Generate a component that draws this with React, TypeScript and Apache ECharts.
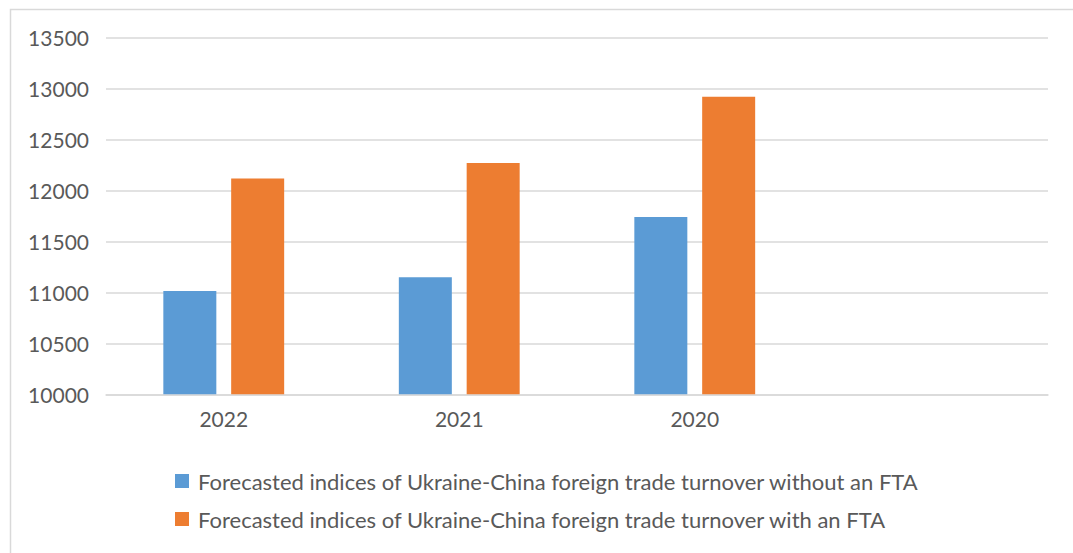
import React, { useEffect, useRef } from "react";
import * as echarts from "echarts";

const categories = ["2022", "2021", "2020", ""];
const withoutFta = [11013, 11147, 11738, null];
const withFta = [12118, 12268, 12918, null];
const seriesNames = [
  "Forecasted indices of Ukraine-China foreign trade turnover without an FTA",
  "Forecasted indices of Ukraine-China foreign trade turnover with an FTA",
];
const yMin = 10000;
const yMax = 13500;
const yStep = 500;

const FONT = "Lato, 'Open Sans', sans-serif";

export default function App() {
  const ref = useRef<HTMLDivElement>(null);
  useEffect(() => {
    document.body.style.margin = "0";
    const chart = echarts.init(ref.current!, undefined, { renderer: "svg" });
    chart.setOption({
      animation: false,
      backgroundColor: "#ffffff",
      textStyle: { fontFamily: FONT },
      graphic: [
        {
          type: "rect",
          left: 8,
          top: 7,
          shape: { width: 1080, height: 560 },
          style: { fill: "none", stroke: "#d9d9d9", lineWidth: 1.5 },
          silent: true,
        },
      ],
      grid: { left: 106, right: 25, top: 37.5, bottom: 158.7, containLabel: false },
      legend: {
        orient: "vertical",
        left: 175,
        top: 470,
        padding: 0,
        itemWidth: 14,
        itemHeight: 14,
        itemGap: 16,
        icon: "rect",
        textStyle: { color: "#595959", fontSize: 22, fontFamily: FONT, padding: [0, 0, 0, 4] },
        data: seriesNames,
      },
      xAxis: {
        type: "category",
        data: categories,
        axisLine: { show: true, lineStyle: { color: "#d9d9d9", width: 1.5 } },
        axisTick: { show: false },
        axisLabel: { color: "#595959", fontSize: 21, margin: 14, fontFamily: FONT },
      },
      yAxis: {
        type: "value",
        min: yMin,
        max: yMax,
        interval: yStep,
        axisLine: { show: false },
        axisTick: { show: false },
        splitLine: { lineStyle: { color: "#d9d9d9", width: 1.5 } },
        axisLabel: {
          color: "#595959",
          fontSize: 21,
          margin: 17,
          fontFamily: FONT,
          formatter: (v: number) => String(v),
        },
      },
      series: [
        {
          name: seriesNames[0],
          type: "bar",
          data: withoutFta,
          barWidth: 53,
          barGap: "28%",
          itemStyle: { color: "#5B9BD5" },
        },
        {
          name: seriesNames[1],
          type: "bar",
          data: withFta,
          barWidth: 53,
          barGap: "28%",
          itemStyle: { color: "#ED7D31" },
        },
      ],
    });
    return () => chart.dispose();
  }, []);
  return <div ref={ref} style={{ width: 1073, height: 553 }} />;
}
